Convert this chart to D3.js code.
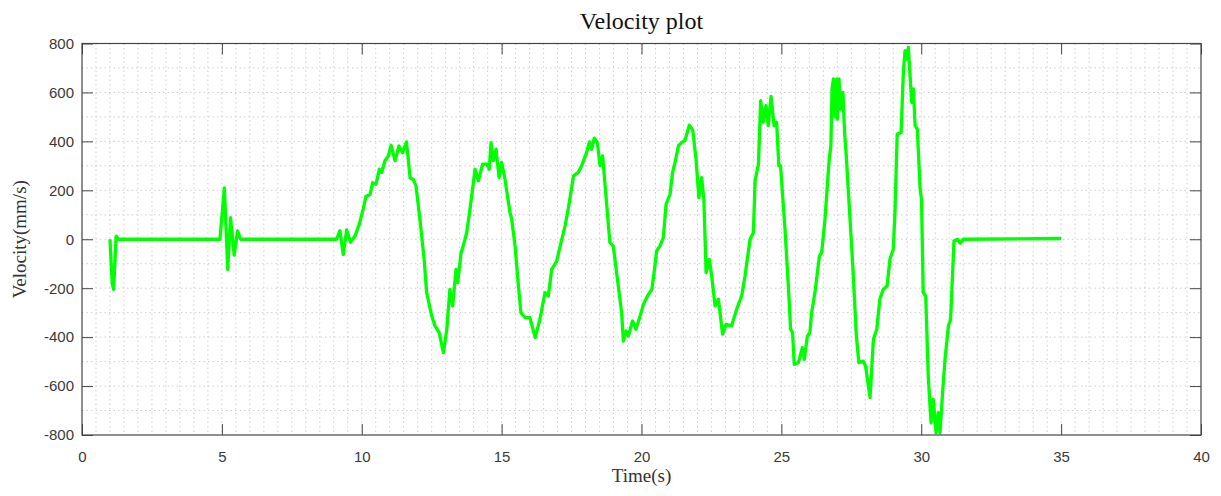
<!DOCTYPE html>
<html>
<head>
<meta charset="utf-8">
<script src="https://cdn.jsdelivr.net/npm/d3@7"></script>
<style>
  body { margin: 0; background: #fff; }
  svg { display: block; }
</style>
</head>
<body>
<div id="chart"></div>
<script>
'use strict';

// velocity samples (time in s, velocity in mm/s)
var time = [
	1.0, 1.08, 1.13, 1.22, 1.3, 4.93, 5.09, 5.21, 5.31, 5.44, 5.56, 5.67,
	9.1, 9.22, 9.34, 9.46, 9.6, 9.76, 9.91, 10.05, 10.15, 10.3, 10.39, 10.51,
	10.63, 10.71, 10.83, 10.95, 11.05, 11.19, 11.33, 11.46, 11.6, 11.73, 11.84, 11.94,
	12.08, 12.23, 12.32, 12.5, 12.62, 12.77, 12.92, 13.04, 13.15, 13.25, 13.37, 13.43,
	13.55, 13.63, 13.75, 13.87, 14.05, 14.17, 14.32, 14.47, 14.56, 14.62, 14.7, 14.8,
	14.91, 15.0, 15.12, 15.3, 15.36, 15.48, 15.6, 15.69, 15.84, 16.01, 16.2, 16.37,
	16.55, 16.67, 16.79, 16.97, 17.15, 17.27, 17.39, 17.57, 17.74, 17.86, 18.04, 18.14,
	18.22, 18.31, 18.42, 18.52, 18.61, 18.75, 18.87, 18.99, 19.11, 19.29, 19.35, 19.45,
	19.53, 19.68, 19.8, 19.95, 20.07, 20.25, 20.37, 20.48, 20.54, 20.66, 20.78, 20.88,
	21.02, 21.11, 21.2, 21.32, 21.44, 21.55, 21.71, 21.83, 21.95, 22.05, 22.15, 22.23,
	22.31, 22.42, 22.51, 22.63, 22.75, 22.9, 23.02, 23.22, 23.4, 23.58, 23.7, 23.88,
	24.0, 24.06, 24.18, 24.26, 24.35, 24.45, 24.53, 24.63, 24.74, 24.83, 24.91, 24.97,
	25.13, 25.25, 25.33, 25.4, 25.46, 25.61, 25.75, 25.82, 25.93, 26.02, 26.08, 26.2,
	26.36, 26.44, 26.56, 26.71, 26.77, 26.81, 26.86, 26.92, 26.98, 27.0, 27.06, 27.12,
	27.2, 27.26, 27.32, 27.44, 27.56, 27.68, 27.77, 27.92, 28.01, 28.17, 28.29, 28.41,
	28.52, 28.64, 28.78, 28.88, 29.0, 29.06, 29.14, 29.28, 29.36, 29.42, 29.48, 29.54,
	29.6, 29.66, 29.72, 29.78, 29.86, 29.96, 30.01, 30.07, 30.16, 30.25, 30.35, 30.43,
	30.53, 30.61, 30.67, 30.77, 30.85, 30.97, 31.05, 31.17, 31.29, 31.39, 31.5, 35.0
];
var velocity = [
	0, -180, -205, 13, 0, 0, 210, -123, 88, -65, 34, 0,
	0, 35, -62, 38, -12, 14, 61, 123, 175, 184, 231, 225,
	286, 273, 321, 341, 384, 321, 381, 354, 398, 250, 245, 218,
	82, -82, -218, -313, -354, -382, -463, -368, -205, -273, -123, -177,
	-55, -27, 27, 123, 286, 239, 307, 307, 286, 395, 321, 368,
	252, 314, 245, 109, 82, -27, -191, -300, -320, -320, -402, -327,
	-218, -232, -123, -89, 0, 55, 130, 259, 273, 300, 355, 398,
	368, 413, 396, 300, 341, 150, -14, -27, -136, -300, -416, -375,
	-396, -334, -368, -314, -266, -225, -205, -109, -48, -27, 7, 143,
	184, 273, 314, 382, 396, 403, 466, 447, 327, 170, 252, 161,
	-136, -82, -150, -273, -245, -388, -348, -354, -286, -232, -150, 0,
	27, 239, 307, 566, 478, 546, 464, 584, 464, 478, 300, 300,
	41, -191, -368, -382, -511, -504, -443, -491, -395, -382, -300, -218,
	-68, -55, 82, 327, 382, 614, 655, 500, 655, 491, 655, 532,
	600, 436, 341, 109, -123, -395, -504, -498, -518, -647, -409, -368,
	-245, -205, -191, -82, -41, 109, 430, 436, 682, 771, 736, 784,
	668, 559, 614, 464, 450, 205, 164, -218, -232, -559, -750, -654,
	-791, -709, -791, -614, -491, -355, -327, -7, 0, -16, 0, 3
];
var xTicks = [0, 5, 10, 15, 20, 25, 30, 35, 40];
var yTicks = [-800, -600, -400, -200, 0, 200, 400, 600, 800];

var width = 1221, height = 496;
var margin = { left: 82, right: 1201, top: 43.5, bottom: 435 };
var tickLen = 11;
var axisColor = '#454545';
var textColor = '#3a3a3a';

var svg = d3.select('#chart').append('svg')
	.attr('width', width)
	.attr('height', height);

var x = d3.scaleLinear().domain([0, 40]).range([margin.left, margin.right]);
var y = d3.scaleLinear().domain([-800, 800]).range([margin.bottom, margin.top]);

// grid (major and minor, all dotted)
var grid = svg.append('g').attr('class', 'grid');
grid.selectAll('.gx')
	.data(d3.range(0.5, 40, 0.5))
	.enter().append('line')
	.attr('x1', function(d) { return x(d); })
	.attr('x2', function(d) { return x(d); })
	.attr('y1', margin.top).attr('y2', margin.bottom);
grid.selectAll('.gy')
	.data(d3.range(-700, 800, 100))
	.enter().append('line')
	.attr('y1', function(d) { return y(d); })
	.attr('y2', function(d) { return y(d); })
	.attr('x1', margin.left).attr('x2', margin.right);
grid.selectAll('line')
	.attr('stroke', '#cfcfcf')
	.attr('stroke-width', 1)
	.attr('stroke-dasharray', '1.5,3');

// clip to axes box
svg.append('clipPath').attr('id', 'clip')
	.append('rect')
	.attr('x', margin.left).attr('y', margin.top)
	.attr('width', margin.right - margin.left).attr('height', margin.bottom - margin.top);

var data = time.map(function(t, i) { return { t: t, v: velocity[i] }; });
var line = d3.line()
	.x(function(d) { return x(d.t); })
	.y(function(d) { return y(d.v); });

svg.append('path')
	.datum(data)
	.attr('clip-path', 'url(#clip)')
	.attr('d', line)
	.attr('fill', 'none')
	.attr('stroke', '#00ff00')
	.attr('stroke-width', 3.3)
	.attr('stroke-linejoin', 'round');

// axes: bottom/left with labels, top/right mirrored ticks only
// plain hyphen for negatives, as in the original
var fmt = function(d) { return String(d); };
svg.append('g')
	.attr('transform', 'translate(0,' + margin.bottom + ')')
	.call(d3.axisBottom(x).tickValues(xTicks).tickSizeInner(-tickLen).tickSizeOuter(0).tickPadding(16).tickFormat(fmt));
svg.append('g')
	.attr('transform', 'translate(0,' + margin.top + ')')
	.call(d3.axisTop(x).tickValues(xTicks).tickSizeInner(-tickLen).tickSizeOuter(0).tickFormat(''));
svg.append('g')
	.attr('transform', 'translate(' + margin.left + ',0)')
	.call(d3.axisLeft(y).tickValues(yTicks).tickSizeInner(-tickLen).tickSizeOuter(0).tickPadding(8).tickFormat(fmt));
svg.append('g')
	.attr('transform', 'translate(' + margin.right + ',0)')
	.call(d3.axisRight(y).tickValues(yTicks).tickSizeInner(-tickLen).tickSizeOuter(0).tickFormat(''));

svg.selectAll('.domain').remove();
svg.selectAll('.tick line').attr('stroke', axisColor);
svg.selectAll('.tick text')
	.attr('fill', textColor)
	.style('font-family', '"Liberation Sans", Arial, sans-serif')
	.style('font-size', '15px');

svg.append('rect')
	.attr('x', margin.left).attr('y', margin.top)
	.attr('width', margin.right - margin.left).attr('height', margin.bottom - margin.top)
	.attr('fill', 'none')
	.attr('stroke', axisColor)
	.attr('stroke-width', 1.2);

// titles
var serif = '"Liberation Serif", "DejaVu Serif", serif';
svg.append('text')
	.attr('x', (margin.left + margin.right) / 2).attr('y', 29)
	.attr('text-anchor', 'middle')
	.style('font-family', serif).style('font-size', '24px')
	.attr('fill', '#111')
	.text('Velocity plot');
svg.append('text')
	.attr('x', (margin.left + margin.right) / 2).attr('y', 482)
	.attr('text-anchor', 'middle')
	.style('font-family', serif).style('font-size', '19px')
	.attr('fill', '#333')
	.text('Time(s)');
svg.append('text')
	.attr('transform', 'translate(26,' + ((margin.top + margin.bottom) / 2) + ') rotate(-90)')
	.attr('text-anchor', 'middle')
	.style('font-family', serif).style('font-size', '19px')
	.attr('fill', '#333')
	.text('Velocity(mm/s)');
</script>
</body>
</html>
